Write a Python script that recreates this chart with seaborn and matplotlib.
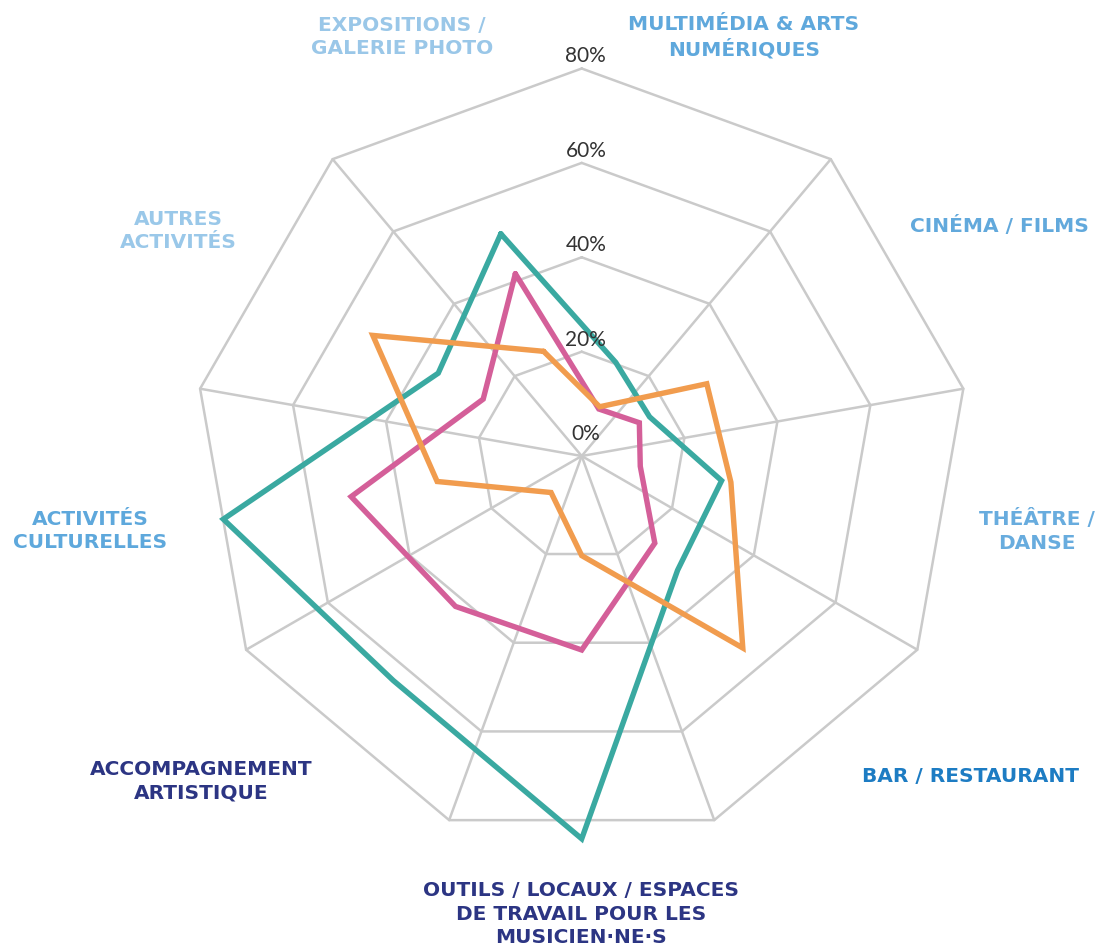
import numpy as np
import pandas as pd
import matplotlib
matplotlib.use("Agg")
import matplotlib.pyplot as plt
import seaborn as sns

# ---------------- data ----------------
categories = [
    "EXPOSITIONS /\nGALERIE PHOTO",
    "MULTIMÉDIA & ARTS\nNUMÉRIQUES",
    "CINÉMA / FILMS",
    "THÉÂTRE /\nDANSE",
    "BAR / RESTAURANT",
    "OUTILS / LOCAUX / ESPACES\nDE TRAVAIL POUR LES\nMUSICIEN·NE·S",
    "ACCOMPAGNEMENT\nARTISTIQUE",
    "ACTIVITÉS\nCULTURELLES",
    "AUTRES\nACTIVITÉS",
]
teal_values = [48, 19, 14.5, 28, 29.5, 79, 60, 75, 33]
pink_values = [39, 8.5, 12, 10.5, 22, 39, 39.5, 47.5, 22]
orange_values = [21.5, 9, 28.5, 30, 51, 19, 8, 29, 49]
series_names = ["teal", "pink", "orange"]
tick_values = [0, 20, 40, 60, 80]
tick_labels = ["0%", "20%", "40%", "60%", "80%"]

# ---------------- style ----------------
series_colors = {"teal": "#3aa9a1", "pink": "#d45f99", "orange": "#f19c4e"}
label_colors = ["#9ac7e8", "#5fa8dc", "#62a9dc", "#68acde", "#1d7cc3",
                "#2c3583", "#2c3583", "#5ea8dc", "#9ac8e9"]
# label centres in pixels (x, y from top)
label_pos = [(402, 37), (744, 37), (999, 226), (1037, 531), (971, 777),
             (581, 914), (201, 781), (90, 531), (178, 231)]

sns.set_theme(style="white")
plt.rcParams["font.family"] = ["DejaVu Sans"]

W, H = 1101, 948
fig = plt.figure(figsize=(W / 100, H / 100), dpi=100)
cx, cy, R = 581.7, 456.0, 387.5
ax = fig.add_axes([(cx - R) / W, (H - cy - R) / H, 2 * R / W, 2 * R / H],
                  projection="polar")
rmin, rmax = -2.1, 80
ax.set_ylim(rmin, rmax)
ax.set_axis_off()

n = len(categories)
# grid polygons: vertices at 90° + 40°k
grid_theta = np.deg2rad(90 + 360 / n * np.arange(n + 1))
grid_color = "#cacaca"
for v in tick_values[1:]:
    ax.plot(grid_theta, [v] * (n + 1), color=grid_color, lw=1.8,
            clip_on=False, zorder=1)
# spokes (none on the top axis, where the tick labels sit)
for t in grid_theta[1:-1]:
    ax.plot([t, t], [rmin, rmax], color=grid_color, lw=1.8,
            clip_on=False, zorder=1)

# data axes: 110°, 70°, ... going clockwise
data_deg = 110 - 360 / n * np.arange(n + 1)
rows = []
for name, vals in zip(series_names, [teal_values, pink_values, orange_values]):
    closed = list(vals) + [vals[0]]
    for d, v in zip(data_deg, closed):
        rows.append({"series": name, "theta": np.deg2rad(d), "value": v})
df = pd.DataFrame(rows)

sns.lineplot(data=df, x="theta", y="value", hue="series", hue_order=series_names,
             palette=series_colors, sort=False, estimator=None, legend=False,
             lw=3.9, ax=ax)
for i, line in enumerate(ax.lines[-3:]):
    line.set_solid_joinstyle("miter")
    line.set_clip_on(False)
    line.set_zorder(3 + i)
ax.set_xlabel("")
ax.set_ylabel("")

# radial tick labels along the top axis
for v, lab in zip(tick_values, tick_labels):
    ax.annotate(lab, xy=(np.pi / 2, v), xytext=(3, 1.5), textcoords="offset points",
                ha="center", va="bottom", fontsize=15, color="#333333",
                family=["Lato", "DejaVu Sans"], fontweight="normal", zorder=6)

# category labels
for lab, col, (px, py) in zip(categories, label_colors, label_pos):
    fig.text(px / W, 1 - py / H, lab, ha="center", va="center", color=col,
             fontsize=14.5, fontweight="bold", linespacing=1.33)

fig.savefig("out.png", dpi=100)
